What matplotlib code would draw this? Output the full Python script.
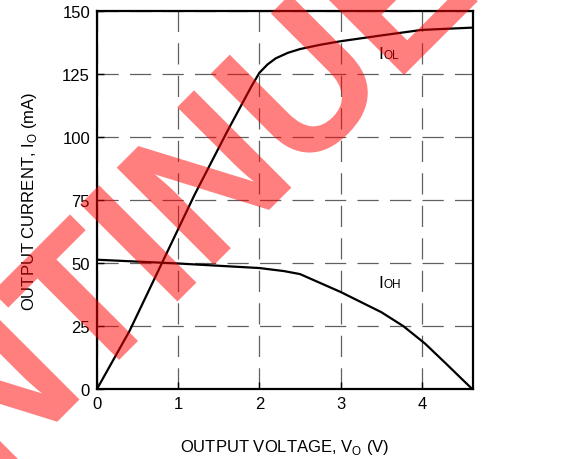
import numpy as np
import matplotlib
matplotlib.use("Agg")
import matplotlib.pyplot as plt
from matplotlib.textpath import TextPath
from matplotlib.font_manager import FontProperties
from matplotlib.patches import PathPatch
from matplotlib.transforms import Affine2D

plt.rcParams['font.family'] = ['Liberation Sans', 'DejaVu Sans']
plt.rcParams['mathtext.fontset'] = 'custom'
plt.rcParams['mathtext.rm'] = 'Liberation Sans'

# values
vol_iol = [0, 0.4, 0.8, 1.2, 1.6, 1.9, 2.0, 2.1, 2.2, 2.35, 2.5, 2.75, 3.0, 3.5, 4.0, 4.62]
cur_iol = [0, 23, 50, 77, 102, 120, 125.5, 128.8, 131.2, 133.4, 134.9, 136.6, 138, 140.3, 142.5, 143.4]

vol_ioh = [0, 1.0, 2.0, 2.3, 2.5, 3.0, 3.5, 3.77, 4.04, 4.3, 4.62]
cur_ioh = [51.3, 49.8, 48, 46.8, 45.6, 38.5, 30.5, 25, 18, 10, 0]

xticks = [0, 1, 2, 3, 4]
yticks = [0, 25, 50, 75, 100, 125, 150]

fig = plt.figure(figsize=(5.79, 4.60), dpi=100)
ax = fig.add_axes([97/579, 70/460, 376/579, 378/460])

ax.plot(vol_iol, cur_iol, color='black', lw=1.6, zorder=3)
ax.plot(vol_ioh, cur_ioh, color='black', lw=1.6, zorder=3)

ax.set_xlim(0, 4.63)
ax.set_ylim(0, 150)
ax.set_xticks(xticks)
ax.set_yticks(yticks)
ax.tick_params(direction='in', length=5, width=1, labelsize=12, pad=5)
ax.grid(color='#606060', lw=0.9, linestyle=(0, (17, 9)))
ax.set_axisbelow(True)
for s in ax.spines.values():
    s.set_linewidth(1.6)

ax.set_xlabel(r'OUTPUT VOLTAGE, V$_{\mathregular{O}}$ (V)', fontsize=12, labelpad=19)
ax.set_ylabel(r'OUTPUT CURRENT, I$_{\mathregular{O}}$ (mA)', fontsize=12, labelpad=17)

# curve labels: big I, small subscript on the baseline
for lbl, yy in [('OL', 131.3), ('OH', 40.5)]:
    ax.text(3.46, yy, 'I', fontsize=12.5, va='baseline')
    ax.annotate(lbl, xy=(3.46, yy), xytext=(4.2, 0), textcoords='offset points',
                fontsize=8.5, va='baseline')

# watermark, slightly condensed bold text at 45 degrees (pixel coords)
fp = FontProperties(family='Liberation Sans', weight='bold')
tp = TextPath((0, 0), 'DISCONTINUED', size=200, prop=fp)
ext = tp.get_extents()
cx = (ext.x0 + ext.x1) / 2
tr = Affine2D().translate(-cx, 0).scale(0.93, 1).rotate_deg(45).translate(79, 59)
fig.add_artist(PathPatch(tp, transform=tr, facecolor='red', edgecolor='none',
                         alpha=0.5, zorder=10))

fig.savefig('out.png', dpi=100)
